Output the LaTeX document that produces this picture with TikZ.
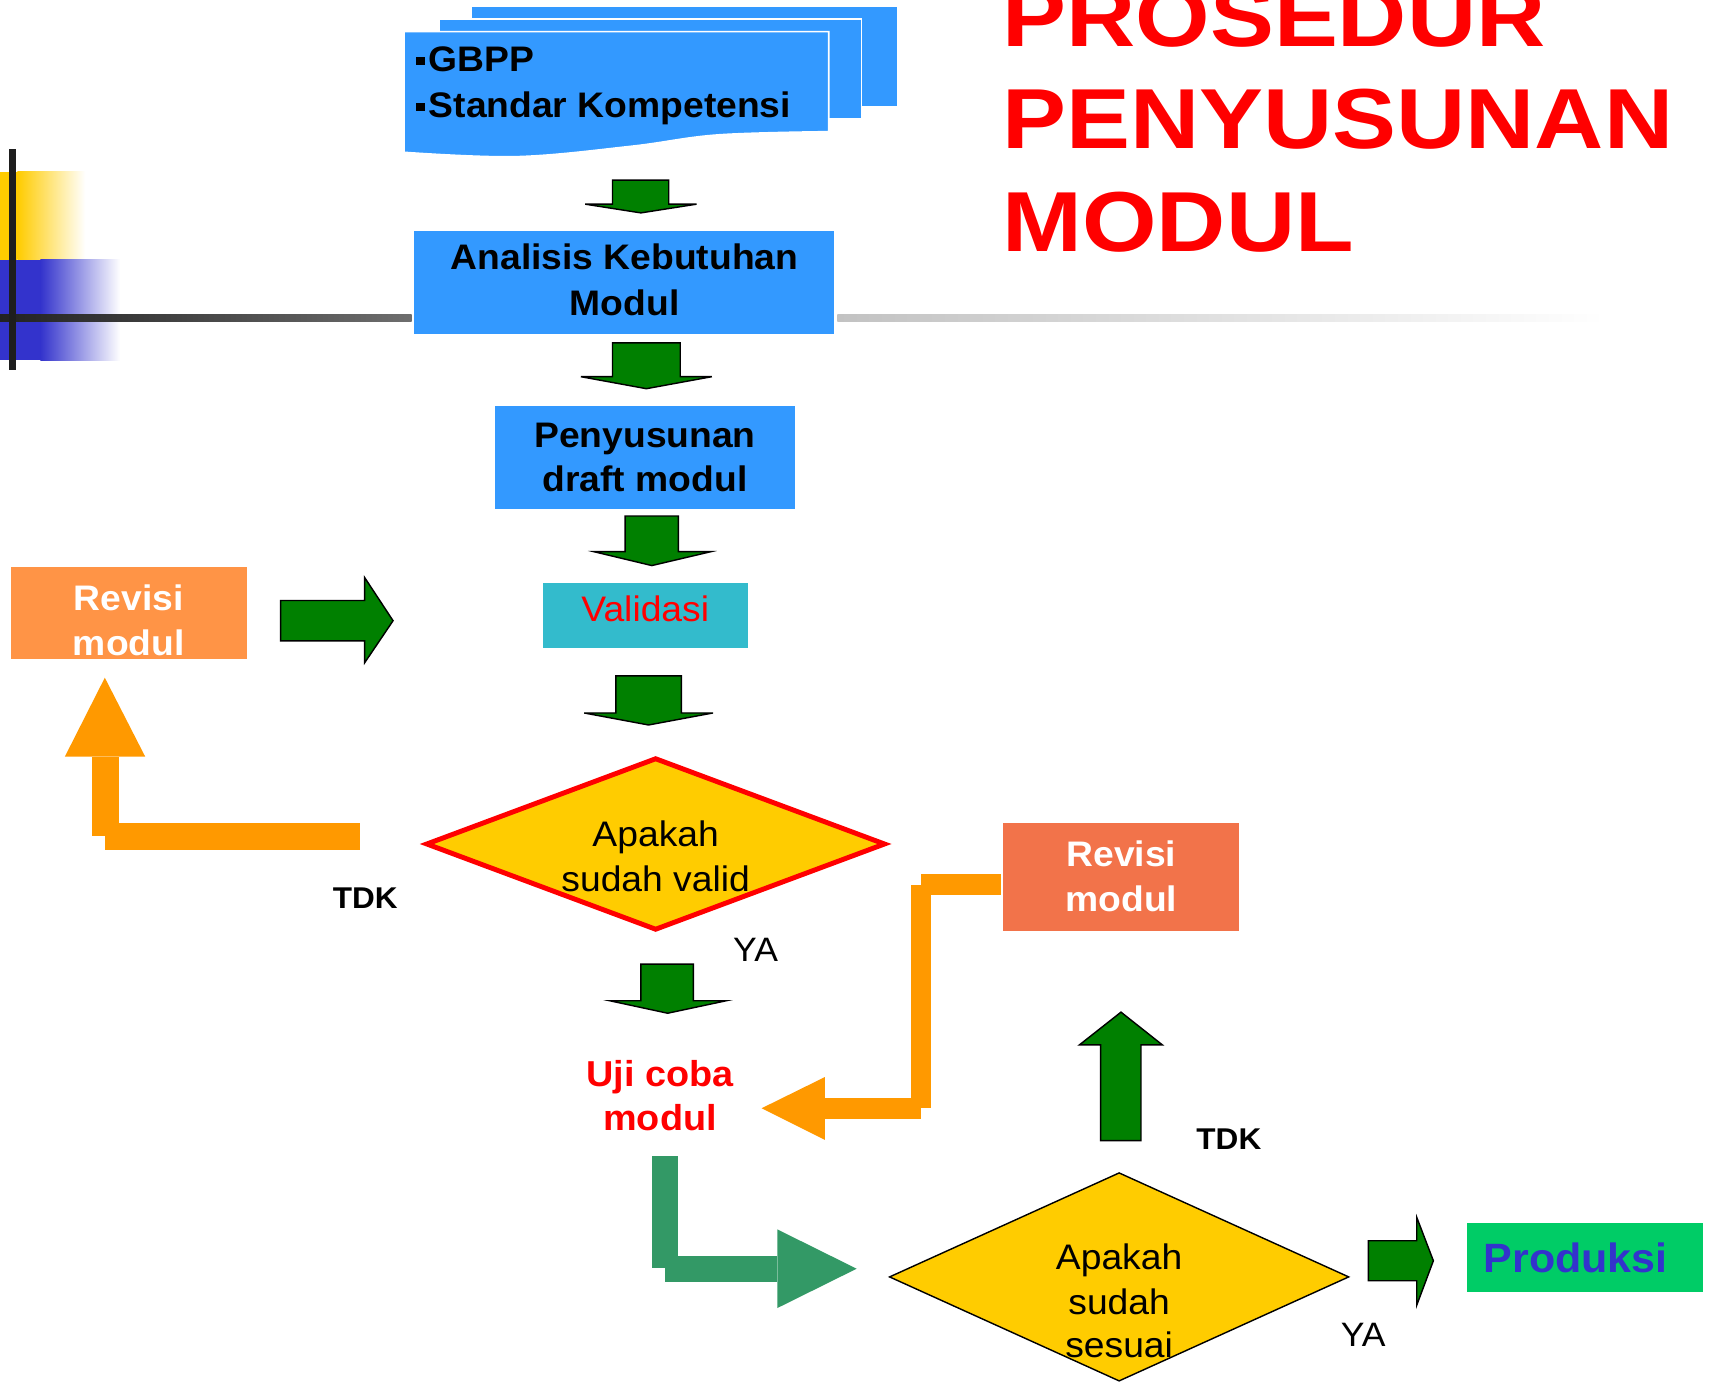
\documentclass[tikz,border=0pt]{standalone}
\usepackage{fontspec}
\setmainfont{Liberation Sans}[FakeStretch=1.05]
\newfontfamily\titlefont{Liberation Sans}[FakeStretch=1.125]
\usetikzlibrary{shapes.geometric}
\definecolor{cDoc}{HTML}{3399FF}
\definecolor{cGreen}{HTML}{008000}
\definecolor{cOrange}{HTML}{FF9900}
\definecolor{cRevA}{HTML}{FF9446}
\definecolor{cRevB}{HTML}{F2734A}
\definecolor{cVal}{HTML}{33BBCC}
\definecolor{cYel}{HTML}{FFCC00}
\definecolor{cBar}{HTML}{3333CC}
\definecolor{cTeal}{HTML}{339966}
\definecolor{cProd}{HTML}{00CC66}
\definecolor{cRed}{HTML}{FF0000}
\definecolor{cLineA}{HTML}{222222}
\definecolor{cLineB}{HTML}{6E6E6E}
\definecolor{cLineC}{HTML}{C2C2C2}
\definecolor{cVert}{HTML}{1E1E1E}
\newcommand\fbody{\fontsize{32.5}{39}\selectfont}
\newcommand\fsmall{\fontsize{27.5}{33}\selectfont}
\newcommand\fya{\fontsize{31}{37}\selectfont}
\newcommand\fprod{\fontsize{37.5}{45}\selectfont}
\newcommand\ftitle{\titlefont\fontsize{78}{94}\selectfont\bfseries}
\newcommand\bul{\rule[6pt]{8pt}{7.5pt}\hspace{3.5pt}}
\tikzset{
  txt/.style={inner sep=0pt, anchor=base, font=\fbody},
  btxt/.style={inner sep=0pt, anchor=base, font=\fbody\bfseries},
  box/.style={rectangle, inner sep=0pt, draw=white, line width=1.5pt},
  sheet/.style={fill=cDoc, draw=white, line width=1.5pt},
  garrow/.style={fill=cGreen, draw=black, line width=1.3pt, line join=miter},
  oarrow/.style={fill=cOrange},
  tarrow/.style={fill=cTeal}
}
\begin{document}
\begin{tikzpicture}[x=1pt,y=-1pt]
\useasboundingbox (0,0) rectangle (1568,1265);
\fill[white] (0,0) rectangle (1568,1265);

% left decoration
\fill[cYel] (0,157.2) rectangle (16,238);
\shade[left color=cYel, right color=white] (16,157.2) rectangle (78,238);
\fill[cBar] (0,238) rectangle (37,330);
\shade[left color=cBar, right color=white] (37,238) rectangle (110,330);
\shade[left color=cLineA, right color=cLineB] (0,288.5) rectangle (377,294.6);
\shade[left color=cLineC, right color=white] (767,288.5) rectangle (1470,294.6);
\fill[cVert] (8.2,136.5) rectangle (14.6,338.9);

% title
\node[inner sep=0pt, anchor=base west, text=cRed, font=\ftitle] (title1) at (918,42.7) {PROSEDUR};
\node[inner sep=0pt, anchor=base west, text=cRed, font=\ftitle] (title2) at (918,136.4) {PENYUSUNAN};
\node[inner sep=0pt, anchor=base west, text=cRed, font=\ftitle] (title3) at (918,230) {MODUL};

% document stack
\filldraw[sheet] (432,5.5) rectangle (822,98);
\filldraw[sheet] (402,17.4) rectangle (789,109);
\filldraw[sheet] (370,29) -- (759,29) -- (759,120.6) -- plot[smooth, tension=0.6] coordinates {(759,120.6) (657,123.6) (578,134) (473,143.5) (370,139.5)} -- cycle;
\node[btxt, anchor=base west] (gbpp) at (381,65.6) {\bul GBPP};
\node[btxt, anchor=base west] (sk) at (381,107.5) {\bul Standar Kompetensi};

% boxes
\node[box, fill=cDoc, minimum width=387pt, minimum height=96pt] (ana) at (571.5,258.75) {};
\node[btxt] (ana1) at (572,247) {Analisis Kebutuhan};
\node[btxt] (ana2) at (572,289) {Modul};

\node[box, fill=cDoc, minimum width=276.5pt, minimum height=95pt] (pen) at (590.75,419) {};
\node[btxt] (pen1) at (590.7,409.7) {Penyusunan};
\node[btxt] (pen2) at (590.7,450.3) {draft modul};

\node[box, fill=cVal, minimum width=189.2pt, minimum height=61pt] (val) at (591.4,563.9) {};
\node[txt, text=cRed] (val1) at (591,569) {Validasi};

\node[box, fill=cRevA, minimum width=218pt, minimum height=86pt] (rev1) at (118,561.5) {};
\node[btxt, text=white] (rev1a) at (118,558.7) {Revisi};
\node[btxt, text=white] (rev1b) at (118,600) {modul};

\node[box, fill=cRevB, minimum width=217.5pt, minimum height=100.2pt] (rev2) at (1026.75,802.9) {};
\node[btxt, text=white] (rev2a) at (1027,793.8) {Revisi};
\node[btxt, text=white] (rev2b) at (1027,834.4) {modul};

\node[box, fill=cProd, minimum width=217.7pt, minimum height=64.2pt] (prod) at (1451.85,1151.6) {};
\node[inner sep=0pt, anchor=base west, font=\fprod\bfseries, text=cBar] (prod1) at (1358.6,1165.6) {Produksi};

% diamonds
\node[diamond, draw=cRed, line width=4.5pt, fill=cYel, inner sep=0pt, minimum width=421pt, minimum height=158pt, aspect=2.66] (d1) at (600.5,773) {};
\node[txt] (d1a) at (600.5,775) {Apakah};
\node[txt] (d1b) at (600.5,816.7) {sudah valid};

\node[diamond, draw=black, line width=1.3pt, fill=cYel, inner sep=0pt, minimum width=421pt, minimum height=191pt, aspect=2.2] (d2) at (1025,1169.5) {};
\node[txt] (d2a) at (1025,1162.9) {Apakah};
\node[txt] (d2b) at (1025,1204) {sudah};
\node[txt] (d2c) at (1025,1243) {sesuai};

% uji coba
\node[btxt, text=cRed, font=\fontsize{33}{40}\selectfont\bfseries] (uji1) at (604.5,994.8) {Uji coba};
\node[btxt, text=cRed, font=\fontsize{33}{40}\selectfont\bfseries] (uji2) at (604.5,1035.6) {modul};

% labels
\node[inner sep=0pt, anchor=base, font=\fsmall\bfseries] (tdk1) at (334.5,832.5) {TDK};
\node[inner sep=0pt, anchor=base, font=\fya] (ya1) at (692,881) {YA};
\node[inner sep=0pt, anchor=base, font=\fsmall\bfseries] (tdk2) at (1125.5,1052.4) {TDK};
\node[inner sep=0pt, anchor=base, font=\fya] (ya2) at (1248.5,1233.5) {YA};

% green block arrows
\draw[garrow] (561,165) -- (612.5,165) -- (612.5,187) -- (638,187) -- (587,195) -- (536,187) -- (561,187) -- cycle;
\draw[garrow] (561,314) -- (623,314) -- (623,345) -- (652,345) -- (592,356) -- (532,345) -- (561,345) -- cycle;
\draw[garrow] (572.5,472.6) -- (621.3,472.6) -- (621.3,505.3) -- (651,505.3) -- (597,518) -- (544,505.3) -- (572.5,505.3) -- cycle;
\draw[garrow] (564,619) -- (624,619) -- (624,653) -- (653,653) -- (594,664) -- (535,653) -- (564,653) -- cycle;
\draw[garrow] (587,883) -- (635,883) -- (635,916.6) -- (665,916.6) -- (611.5,928) -- (558.6,916.6) -- (587,916.6) -- cycle;
\draw[garrow] (257,550) -- (334,550) -- (334,529) -- (360,568.5) -- (334,607) -- (334,587) -- (257,587) -- cycle;
\draw[garrow] (1008,1044.7) -- (1008,957) -- (988.6,957) -- (1026.7,927) -- (1064.6,957) -- (1045,957) -- (1045,1044.7) -- cycle;
\draw[garrow] (1253.3,1136.4) -- (1297.6,1136.4) -- (1297.6,1115) -- (1312.8,1154.7) -- (1297.6,1195.3) -- (1297.6,1173) -- (1253.3,1173) -- cycle;

% orange arrows
\fill[oarrow] (96,620.7) -- (133,693) -- (59.4,693) -- cycle;
\fill[oarrow] (84,693) rectangle (109,766);
\fill[oarrow] (96,754) rectangle (330,778.5);

\fill[oarrow] (843.6,800.5) rectangle (916.5,820);
\fill[oarrow] (834,810.7) rectangle (852.7,1015);
\fill[oarrow] (755,1005.7) rectangle (843.6,1025);
\fill[oarrow] (697.6,1015) -- (755.4,986.5) -- (755.4,1044) -- cycle;

% teal bent arrow
\fill[tarrow] (597,1059) rectangle (621,1161.6);
\fill[tarrow] (609,1150) rectangle (712,1174);
\fill[tarrow] (712,1126) -- (784.6,1162) -- (712,1198) -- cycle;
\end{tikzpicture}
\end{document}
